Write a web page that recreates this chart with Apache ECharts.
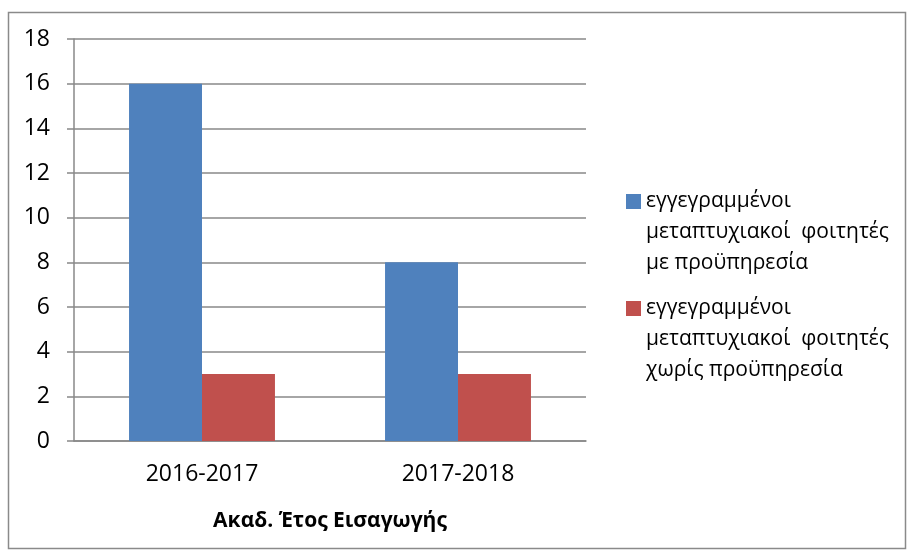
<!DOCTYPE html>
<html><head><meta charset="utf-8">
<script src="https://cdn.jsdelivr.net/npm/echarts@6/dist/echarts.min.js"></script>
<style>html,body{margin:0;padding:0;background:#fff}#c{width:909px;height:552px}</style>
</head><body><div id="c"></div>
<script>
const categories = ['2016-2017', '2017-2018'];
const seriesNames = ['εγγεγραμμένοι\nμεταπτυχιακοί  φοιτητές\nμε προϋπηρεσία', 'εγγεγραμμένοι\nμεταπτυχιακοί  φοιτητές\nχωρίς προϋπηρεσία'];
const withExperience = [16, 8];
const withoutExperience = [3, 3];
const yTicks = [0, 2, 4, 6, 8, 10, 12, 14, 16, 18];
const axisTitle = 'Ακαδ. Έτος Εισαγωγής';

const FONT = '"Open Sans", "Noto Sans", sans-serif';
const chart = echarts.init(document.getElementById('c'), null, {renderer: 'canvas'});
chart.setOption({
  animation: false,
  backgroundColor: '#fff',
  graphic: [{type: 'rect', shape: {x: 8.5, y: 12.5, width: 897, height: 536}, style: {fill: 'none', stroke: '#8a8a8a', lineWidth: 1.5}, silent: true}],
  grid: {left: 74, right: 323, top: 39, bottom: 111, containLabel: false},
  legend: {
    orient: 'vertical', left: 621, top: 119, itemWidth: 15, itemHeight: 15, itemGap: -48,
    icon: 'rect',
    formatter: name => '\n\n' + name,
    textStyle: {fontFamily: FONT, fontSize: 21, color: '#000', lineHeight: 31},
    data: seriesNames
  },
  xAxis: {
    type: 'category', data: categories,
    axisLine: {lineStyle: {color: '#888', width: 1.5}},
    axisTick: {show: false},
    axisLabel: {fontFamily: FONT, fontSize: 23, color: '#000', margin: 22},
    name: axisTitle, nameLocation: 'middle', nameGap: 70,
    nameTextStyle: {fontFamily: FONT, fontSize: 21, fontWeight: 'bold', color: '#000'}
  },
  yAxis: {
    type: 'value', min: 0, max: 18, interval: 2,
    axisLine: {show: true, lineStyle: {color: '#888', width: 1.5}},
    axisTick: {show: true, length: 7, lineStyle: {color: '#888', width: 1.5}},
    splitLine: {lineStyle: {color: '#888', width: 1.5}},
    axisLabel: {fontFamily: FONT, fontSize: 23, color: '#000', margin: 24,
      formatter: v => yTicks.includes(v) ? String(v) : ''}
  },
  series: [
    {name: seriesNames[0], type: 'bar', data: withExperience, barGap: '0%', barCategoryGap: '43%', itemStyle: {color: '#4f81bd'}},
    {name: seriesNames[1], type: 'bar', data: withoutExperience, barGap: '0%', barCategoryGap: '43%', itemStyle: {color: '#c0504d'}}
  ]
});
</script></body></html>
